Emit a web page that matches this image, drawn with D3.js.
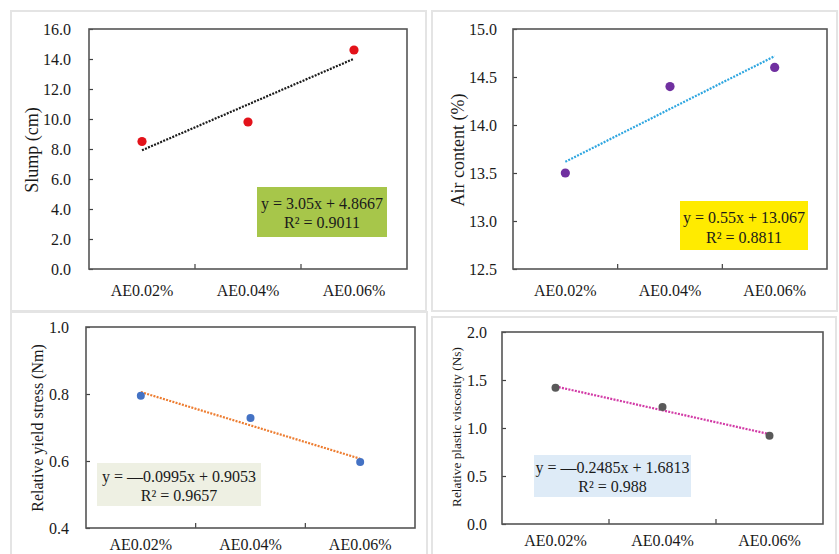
<!DOCTYPE html>
<html>
<head>
<meta charset="utf-8">
<script src="https://cdn.jsdelivr.net/npm/d3@7"></script>
<style>
  html, body { margin: 0; padding: 0; background: #ffffff; }
  svg { display: block; font-family: "Liberation Serif", "Times New Roman", serif; }
  svg text { font-family: "Liberation Serif", "Times New Roman", serif; }
</style>
</head>
<body>
<svg id="chart" width="839" height="554"></svg>
<script>
// Mix labels shared by all four panels
const categories = ["AE0.02%", "AE0.04%", "AE0.06%"];

// Measured values per mix
const slump = [8.5, 9.8, 14.6];
const airContent = [13.5, 14.4, 14.6];
const yieldStress = [0.795, 0.728, 0.597];
const plasticViscosity = [1.42, 1.22, 0.92];

// Linear fits (slope, intercept, R²) against mix index 1..3
const slumpFit = [3.05, 4.8667, 0.9011];
const airFit = [0.55, 13.067, 0.8811];
const yieldFit = [-0.0995, 0.9053, 0.9657];
const viscosityFit = [-0.2485, 1.6813, 0.988];

// Y-axis tick values
const slumpTicks = [0, 2, 4, 6, 8, 10, 12, 14, 16];
const airTicks = [12.5, 13.0, 13.5, 14.0, 14.5, 15.0];
const yieldTicks = [0.4, 0.6, 0.8, 1.0];
const viscosityTicks = [0, 0.5, 1.0, 1.5, 2.0];

// Equation strings shown in the boxes
const slumpEq = ["y = 3.05x + 4.8667", "R² = 0.9011"];
const airEq = ["y = 0.55x + 13.067", "R² = 0.8811"];
const yieldEq = ["y = —0.0995x + 0.9053", "R² = 0.9657"];
const viscosityEq = ["y = —0.2485x + 1.6813", "R² = 0.988"];

const SERIF = "'Liberation Serif', 'Times New Roman', serif";
const svg = d3.select("#chart");

const panels = [
  {
    frame: [11, 11, 415, 300],
    plot: { left: 89, top: 29, right: 407, bottom: 269 },
    values: slump, fit: slumpFit, ticks: slumpTicks, eq: slumpEq,
    yLabel: "Slump (cm)", yLabelSize: 18, yLabelX: 32, yLabelY: 150,
    tickPad: 18, xLabelY: 297, tickSize: 16, pointR: 4.6,
    pointColor: "#e3121a", lineColor: "#1a1a1a",
    box: [257, 187, 130, 50], boxColor: "#a7c64a", eqRows: [22, 41]
  },
  {
    frame: [432, 11, 405, 300],
    plot: { left: 513, top: 29, right: 827, bottom: 269 },
    values: airContent, fit: airFit, ticks: airTicks, eq: airEq,
    yLabel: "Air content (%)", yLabelSize: 18, yLabelX: 458, yLabelY: 150,
    tickPad: 16, xLabelY: 297, tickSize: 16, pointR: 4.6,
    pointColor: "#7030a0", lineColor: "#2ea6e0",
    box: [680, 201, 128, 49], boxColor: "#ffeb00", eqRows: [22, 42]
  },
  {
    frame: [11, 312, 416, 260],
    plot: { left: 86, top: 327, right: 415, bottom: 528 },
    values: yieldStress, fit: yieldFit, ticks: yieldTicks, eq: yieldEq,
    yLabel: "Relative yield stress (Nm)", yLabelSize: 16, yLabelX: 37, yLabelY: 428,
    tickPad: 17, xLabelY: 551, tickSize: 16, pointR: 4,
    pointColor: "#4472c4", lineColor: "#ed7d31",
    box: [97, 463, 164, 43], boxColor: "#eef0e3", eqRows: [19, 38]
  },
  {
    frame: [432, 317, 404, 260],
    plot: { left: 502, top: 332, right: 823, bottom: 524 },
    values: plasticViscosity, fit: viscosityFit, ticks: viscosityTicks, eq: viscosityEq,
    yLabel: "Relative plastic viscosity (Ns)", yLabelSize: 13.3, yLabelX: 456, yLabelY: 427,
    tickPad: 15, xLabelY: 547, tickSize: 16, pointR: 4,
    pointColor: "#595959", lineColor: "#d23aa6",
    box: [534, 455, 157, 42], boxColor: "#deebf7", eqRows: [18, 37]
  }
];

panels.forEach(p => {
  const g = svg.append("g");
  const { left, top, right, bottom } = p.plot;

  // Outer panel outline
  g.append("rect")
    .attr("x", p.frame[0]).attr("y", p.frame[1])
    .attr("width", p.frame[2]).attr("height", p.frame[3])
    .attr("fill", "#ffffff")
    .attr("stroke", "#e4e4e4").attr("stroke-width", 2);

  const x = d3.scaleBand().domain(categories).range([left, right]).padding(0);
  const y = d3.scaleLinear()
    .domain([d3.min(p.ticks), d3.max(p.ticks)])
    .range([bottom, top]);
  const cx = c => x(c) + x.bandwidth() / 2;

  // Y axis: inward ticks, labels to the left
  const yAxis = g.append("g")
    .attr("transform", `translate(${left},0)`)
    .call(d3.axisLeft(y).tickValues(p.ticks).tickFormat(d3.format(".1f"))
      .tickSize(-4).tickPadding(p.tickPad));
  yAxis.attr("font-family", SERIF);
  yAxis.select(".domain").remove();
  yAxis.selectAll("line").attr("stroke", "#404040").attr("stroke-width", 1.2);
  yAxis.selectAll("text")
    .attr("font-size", p.tickSize).attr("fill", "#1a1a1a")
    .attr("font-family", SERIF);

  // X axis: category labels, tick marks between categories
  const xAxis = g.append("g")
    .attr("transform", `translate(0,${bottom})`)
    .call(d3.axisBottom(x).tickSize(0).tickPadding(p.xLabelY - bottom - 12));
  xAxis.attr("font-family", SERIF);
  xAxis.select(".domain").remove();
  xAxis.selectAll("text")
    .attr("font-size", p.tickSize).attr("fill", "#1a1a1a")
    .attr("font-family", SERIF);

  g.selectAll(".xdiv")
    .data(categories.slice(1))
    .join("line")
    .attr("x1", d => x(d)).attr("x2", d => x(d))
    .attr("y1", bottom).attr("y2", bottom - 5)
    .attr("stroke", "#404040").attr("stroke-width", 1.2);

  // Plot-area frame
  g.append("rect")
    .attr("x", left).attr("y", top)
    .attr("width", right - left).attr("height", bottom - top)
    .attr("fill", "none")
    .attr("stroke", "#555555").attr("stroke-width", 1.6);

  // Linear trendline across the category range
  const [slope, intercept] = p.fit;
  const trend = categories.map((c, i) => [cx(c), y(slope * (i + 1) + intercept)]);
  g.append("line")
    .attr("x1", trend[0][0]).attr("y1", trend[0][1])
    .attr("x2", trend[trend.length - 1][0]).attr("y2", trend[trend.length - 1][1])
    .attr("stroke", p.lineColor).attr("stroke-width", 2.2)
    .attr("stroke-dasharray", "2,1.3");

  // Data markers
  g.selectAll(".pt")
    .data(p.values)
    .join("circle")
    .attr("cx", (d, i) => cx(categories[i]))
    .attr("cy", d => y(d))
    .attr("r", p.pointR)
    .attr("fill", p.pointColor);

  // Equation box
  const [bx, by, bw, bh] = p.box;
  g.append("rect")
    .attr("x", bx).attr("y", by).attr("width", bw).attr("height", bh)
    .attr("fill", p.boxColor);
  g.selectAll(".eq")
    .data(p.eq)
    .join("text")
    .attr("x", bx + bw / 2)
    .attr("y", (d, i) => by + p.eqRows[i])
    .attr("text-anchor", "middle")
    .attr("font-size", 16)
    .attr("font-family", SERIF)
    .attr("fill", "#1a1a1a")
    .text(d => d);

  // Y-axis title
  g.append("text")
    .attr("transform", `translate(${p.yLabelX},${p.yLabelY}) rotate(-90)`)
    .attr("text-anchor", "middle")
    .attr("dy", "0.35em")
    .attr("font-size", p.yLabelSize)
    .attr("font-family", SERIF)
    .attr("fill", "#1a1a1a")
    .text(p.yLabel);
});
</script>
</body>
</html>
